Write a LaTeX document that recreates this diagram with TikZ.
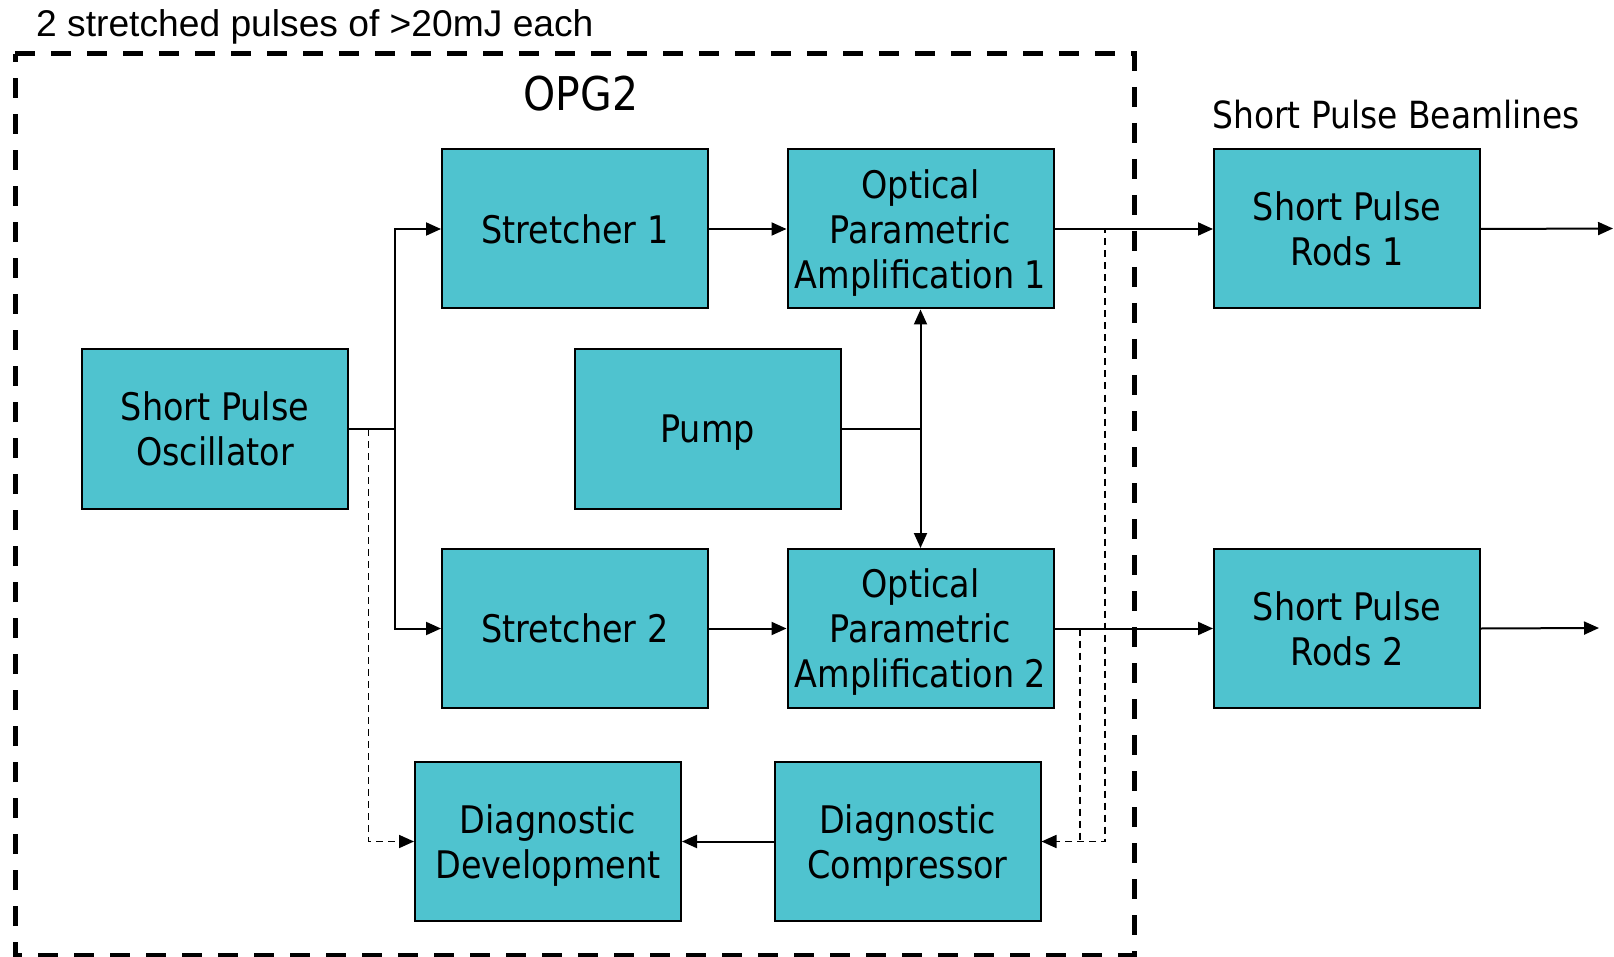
\documentclass[tikz,border=0pt]{standalone}
\usepackage{fontspec}
\setmainfont{DejaVu Sans}[FakeStretch=0.88]
\newfontfamily\arialfont{Liberation Sans}
\usetikzlibrary{arrows.meta}
\definecolor{boxfill}{RGB}{79,195,207}
\newcommand{\nodp}[1]{\raisebox{0pt}[\height][0pt]{#1}}
\tikzset{
  blk/.style={draw=black, line width=2pt, fill=boxfill, minimum width=266pt, minimum height=159pt,
    inner sep=0pt, align=center, font=\fontsize{38}{45}\selectfont},
  arr/.style={line width=2pt, -{Triangle[length=15pt,width=13pt]}},
  arrboth/.style={line width=2pt, {Triangle[length=15pt,width=13pt]}-{Triangle[length=15pt,width=13pt]}},
  ln/.style={line width=2pt},
  darr/.style={line width=1.7pt, dash pattern=on 7pt off 5pt, -{Triangle[length=15pt,width=13pt]}},
  dln/.style={line width=1.7pt, dash pattern=on 7pt off 5pt},
  frame/.style={line width=5pt, dash pattern=on 20pt off 16pt},
}
\begin{document}
\begin{tikzpicture}[x=1pt,y=-1pt]
\useasboundingbox (0,0) rectangle (1614,957);
\fill[white] (0,0) rectangle (1614,957);
\draw[frame] (15,54) -- (1134,54) -- (1134,955) -- (15,955) -- cycle;
\node[anchor=west, font=\arialfont\fontsize{37.2}{41}\selectfont, inner sep=0pt] (title) at (36,27) {2 stretched pulses of >20mJ each};
\node[font=\fontsize{46.5}{52}\selectfont, inner sep=0pt] (opg) at (581,94) {OPG2};
\node[font=\fontsize{37.4}{42}\selectfont, inner sep=0pt] (bl) at (1396,115) {Short Pulse Beamlines};

\node[blk] (osc) at (215,429) {Short Pulse\\\nodp{Oscillator}};
\node[blk] (s1) at (575,229) {\nodp{Stretcher 1}};
\node[blk] (opa1) at (920.5,229) {Optical\\Parametric\\\nodp{Amplification 1}};
\node[blk] (pump) at (707.5,429) {\nodp{Pump}};
\node[blk] (s2) at (575,628.5) {\nodp{Stretcher 2}};
\node[blk] (opa2) at (920.5,628.5) {Optical\\Parametric\\\nodp{Amplification 2}};
\node[blk] (dd) at (548,841.5) {Diagnostic\\\nodp{Development}};
\node[blk] (dc) at (907.5,841.5) {Diagnostic\\\nodp{Compressor}};
\node[blk] (spr1) at (1347,229) {Short Pulse\\\nodp{Rods 1}};
\node[blk] (spr2) at (1347,628.5) {Short Pulse\\\nodp{Rods 2}};

\coordinate (j1) at (395,429);
\coordinate (d1) at (368.5,429);
\coordinate (d2) at (1105,229);
\coordinate (d3) at (1080,628.5);
\coordinate (d3b) at (1080,841.5);
\coordinate (e1) at (1613,228.5);
\coordinate (e2) at (1599,628);

\draw[ln] (osc.east) -- (j1);
\draw[arr] (j1) |- (s1.west);
\draw[arr] (j1) |- (s2.west);
\draw[darr] (d1) |- (dd.west);
\draw[arr] (s1) -- (opa1);
\draw[arr] (s2) -- (opa2);
\draw[ln] (pump.east) -- (pump.east -| opa1.south);
\draw[arrboth] (opa1.south) -- (opa2.north);
\draw[arr] (opa1.east) -- (spr1.west);
\draw[arr] (opa2.east) -- (spr2.west);
\draw[darr] (opa1.east) -- (d2) |- (dc.east);
\draw[dln] (d3) -- (d3b);
\draw[arr] (dc.west) -- (dd.east);
\draw[arr] (spr1.east) -- (e1);
\draw[arr] (spr2.east) -- (e2);
\end{tikzpicture}
\end{document}
